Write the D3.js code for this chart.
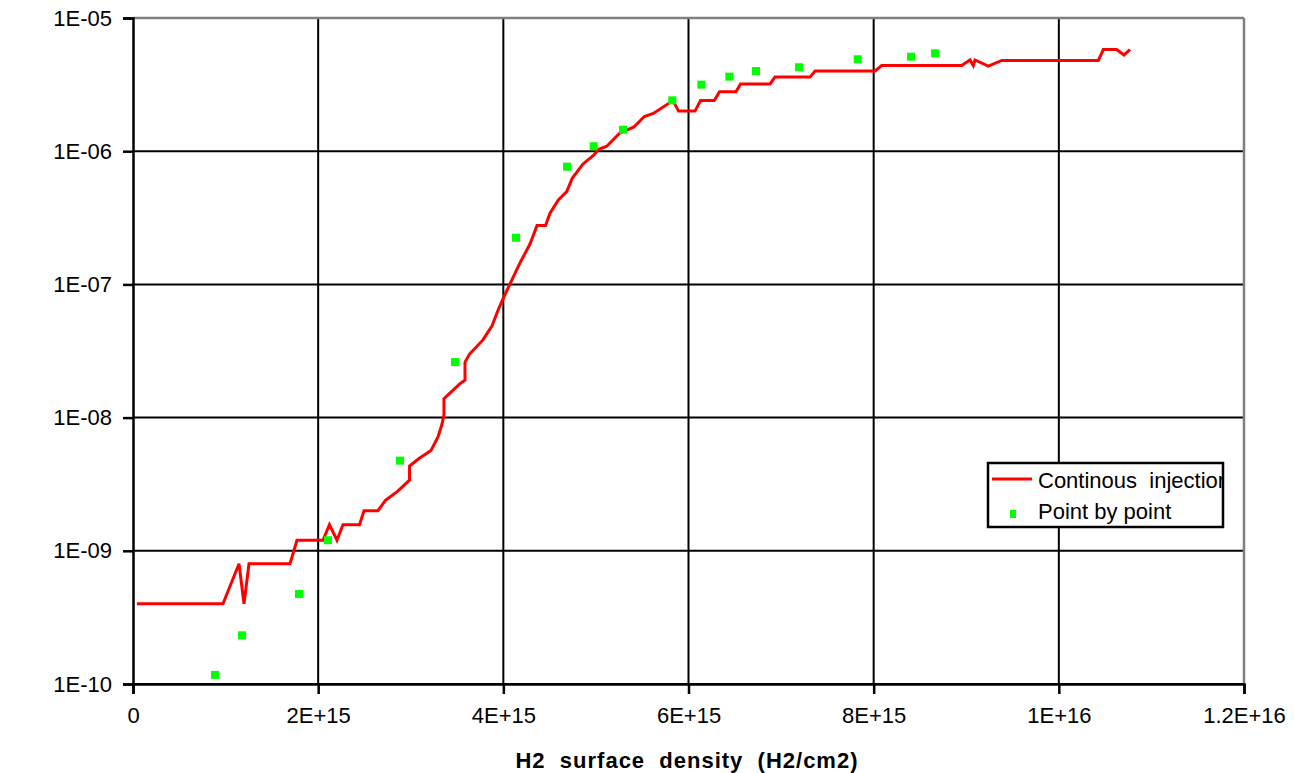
<!DOCTYPE html>
<html>
<head>
<meta charset="utf-8">
<script src="https://cdn.jsdelivr.net/npm/d3@7"></script>
<style>
  body { margin: 0; background: #fff; }
  text { font-family: "Liberation Sans", Arial, sans-serif; }
</style>
</head>
<body>
<svg width="1294" height="773"></svg>
<script>
// continuous injection curve (x in H2/cm2, y signal)
var lineX = [0.043e15, 0.972e15, 1.145e15, 1.199e15, 1.253e15, 1.696e15, 1.771e15, 2.052e15, 2.122e15, 2.203e15,
  2.268e15, 2.447e15, 2.495e15, 2.646e15, 2.727e15, 2.857e15, 2.987e15, 2.987e15, 3.089e15, 3.219e15,
  3.294e15, 3.338e15, 3.359e15, 3.359e15, 3.532e15, 3.586e15, 3.586e15, 3.635e15, 3.780e15, 3.878e15,
  3.937e15, 3.991e15, 4.072e15, 4.180e15, 4.288e15, 4.364e15, 4.456e15, 4.504e15, 4.594e15, 4.685e15,
  4.744e15, 4.861e15, 4.979e15, 5.026e15, 5.117e15, 5.253e15, 5.411e15, 5.523e15, 5.620e15, 5.833e15,
  5.892e15, 6.070e15, 6.130e15, 6.279e15, 6.335e15, 6.513e15, 6.562e15, 6.881e15, 6.934e15, 7.313e15,
  7.367e15, 8.015e15, 8.087e15, 8.951e15, 9.041e15, 9.076e15, 9.095e15, 9.238e15, 9.383e15, 10.427e15,
  10.481e15, 10.625e15, 10.704e15, 10.769e15];
var lineY = [4.0e-10, 4.0e-10, 8.0e-10, 4.0e-10, 8.0e-10, 8.0e-10, 1.2e-9, 1.2e-9, 1.57e-9, 1.2e-9,
  1.57e-9, 1.57e-9, 2.0e-9, 2.0e-9, 2.39e-9, 2.79e-9, 3.4e-9, 4.33e-9, 4.93e-9, 5.66e-9,
  7.15e-9, 8.95e-9, 1.05e-8, 1.39e-8, 1.8e-8, 1.91e-8, 2.61e-8, 3.0e-8, 3.83e-8, 4.88e-8,
  6.26e-8, 7.64e-8, 1.01e-7, 1.45e-7, 2.01e-7, 2.77e-7, 2.77e-7, 3.42e-7, 4.3e-7, 4.97e-7,
  6.26e-7, 8.02e-7, 9.36e-7, 1.03e-6, 1.09e-6, 1.36e-6, 1.52e-6, 1.82e-6, 1.92e-6, 2.4e-6,
  2.0e-6, 2.0e-6, 2.4e-6, 2.4e-6, 2.8e-6, 2.8e-6, 3.2e-6, 3.2e-6, 3.6e-6, 3.6e-6,
  4.0e-6, 4.0e-6, 4.4e-6, 4.4e-6, 4.84e-6, 4.4e-6, 4.84e-6, 4.36e-6, 4.8e-6, 4.8e-6,
  5.8e-6, 5.8e-6, 5.28e-6, 5.8e-6];

// point by point measurements
var pointX = [0.886e15, 1.177e15, 1.793e15, 2.106e15, 2.884e15, 3.478e15, 4.137e15, 4.688e15, 4.976e15,
  5.293e15, 5.825e15, 6.139e15, 6.441e15, 6.729e15, 7.194e15, 7.828e15, 8.404e15, 8.663e15];
var pointY = [1.17e-10, 2.32e-10, 4.74e-10, 1.2e-9, 4.75e-9, 2.61e-8, 2.24e-7, 7.65e-7, 1.09e-6,
  1.45e-6, 2.41e-6, 3.16e-6, 3.63e-6, 4.0e-6, 4.27e-6, 4.9e-6, 5.12e-6, 5.43e-6];

var xTicks = [0, 2e15, 4e15, 6e15, 8e15, 1e16, 1.2e16];
var xTickLabels = ['0', '2E+15', '4E+15', '6E+15', '8E+15', '1E+16', '1.2E+16'];
var yTicks = [1e-10, 1e-9, 1e-8, 1e-7, 1e-6, 1e-5];
var yTickLabels = ['1E-10', '1E-09', '1E-08', '1E-07', '1E-06', '1E-05'];
var seriesNames = ['Continous  injection', 'Point by point'];

var svg = d3.select('svg');

var plotLeft = 133, plotRight = 1244, plotTop = 18, plotBottom = 684;

var x = d3.scaleLinear().domain([0, 1.2e16]).range([plotLeft, plotRight]);
var y = d3.scaleLog().domain([1e-10, 1e-5]).range([plotBottom, plotTop]);

// grid
svg.append('g')
    .selectAll('line')
    .data(xTicks.slice(1, -1))
    .enter().append('line')
    .attr('x1', d => x(d)).attr('x2', d => x(d))
    .attr('y1', plotTop).attr('y2', plotBottom)
    .style('stroke', '#000')
    .style('stroke-width', 2);

svg.append('g')
    .selectAll('line')
    .data(yTicks.slice(0, -1))
    .enter().append('line')
    .attr('x1', plotLeft).attr('x2', plotRight)
    .attr('y1', d => y(d)).attr('y2', d => y(d))
    .style('stroke', '#000')
    .style('stroke-width', 2);

// plot frame (grey top and right)
svg.append('line')
    .attr('x1', plotLeft).attr('x2', plotRight)
    .attr('y1', plotTop).attr('y2', plotTop)
    .style('stroke', '#808080')
    .style('stroke-width', 2.5);
svg.append('line')
    .attr('x1', plotRight).attr('x2', plotRight)
    .attr('y1', plotTop).attr('y2', plotBottom)
    .style('stroke', '#808080')
    .style('stroke-width', 2.5);

// axes
var xAxis = d3.axisBottom(x)
    .tickValues(xTicks)
    .tickFormat((d, i) => xTickLabels[i])
    .tickSizeOuter(0)
    .tickSize(10)
    .tickPadding(13);

var yAxis = d3.axisLeft(y)
    .tickValues(yTicks)
    .tickFormat((d, i) => yTickLabels[i])
    .tickSizeOuter(0)
    .tickSize(10)
    .tickPadding(11);

var gx = svg.append('g')
    .attr('transform', 'translate(0,' + plotBottom + ')')
    .call(xAxis);
var gy = svg.append('g')
    .attr('transform', 'translate(' + plotLeft + ',0)')
    .call(yAxis);

[gx, gy].forEach(function(g) {
    g.select('.domain').style('stroke', '#000').style('stroke-width', 2.5);
    g.selectAll('.tick line').style('stroke', '#000').style('stroke-width', 2.5);
    g.selectAll('.tick text')
        .style('font-size', '22px')
        .style('fill', '#000')
        .style('font-family', '"Liberation Sans", Arial, sans-serif');
});

// axis title
svg.append('text')
    .attr('x', 687)
    .attr('y', 768)
    .attr('text-anchor', 'middle')
    .style('font-size', '22px')
    .style('font-weight', 'bold')
    .style('letter-spacing', '1px')
    .style('white-space', 'pre')
    .text('H2  surface  density  (H2/cm2)');

// red line
var line = d3.line()
    .x((d, i) => x(lineX[i]))
    .y(d => y(d));

svg.append('path')
    .datum(lineY)
    .attr('d', line)
    .style('fill', 'none')
    .style('stroke', '#ff0000')
    .style('stroke-width', 3)
    .style('stroke-linejoin', 'miter');

// green points
svg.append('g')
    .selectAll('rect')
    .data(pointY)
    .enter().append('rect')
    .attr('x', (d, i) => x(pointX[i]) - 4)
    .attr('y', d => y(d) - 4)
    .attr('width', 8)
    .attr('height', 8)
    .style('fill', '#00ff00');

// legend
var lg = svg.append('g');
svg.append('clipPath')
    .attr('id', 'legclip')
    .append('rect')
    .attr('x', 988).attr('y', 463)
    .attr('width', 234).attr('height', 64);

lg.append('rect')
    .attr('x', 988).attr('y', 463)
    .attr('width', 235).attr('height', 64)
    .style('fill', '#fff')
    .style('stroke', '#000')
    .style('stroke-width', 2.5);

lg.append('line')
    .attr('x1', 992).attr('x2', 1032)
    .attr('y1', 479).attr('y2', 479)
    .style('stroke', '#ff0000')
    .style('stroke-width', 3);

lg.append('rect')
    .attr('x', 1010).attr('y', 510)
    .attr('width', 6).attr('height', 8)
    .style('fill', '#00ff00');

lg.append('g')
    .attr('clip-path', 'url(#legclip)')
    .selectAll('text')
    .data(seriesNames)
    .enter().append('text')
    .attr('x', 1038)
    .attr('y', (d, i) => 488 + i * 31)
    .style('font-size', '22px')
    .style('white-space', 'pre')
    .text(d => d);
</script>
</body>
</html>
